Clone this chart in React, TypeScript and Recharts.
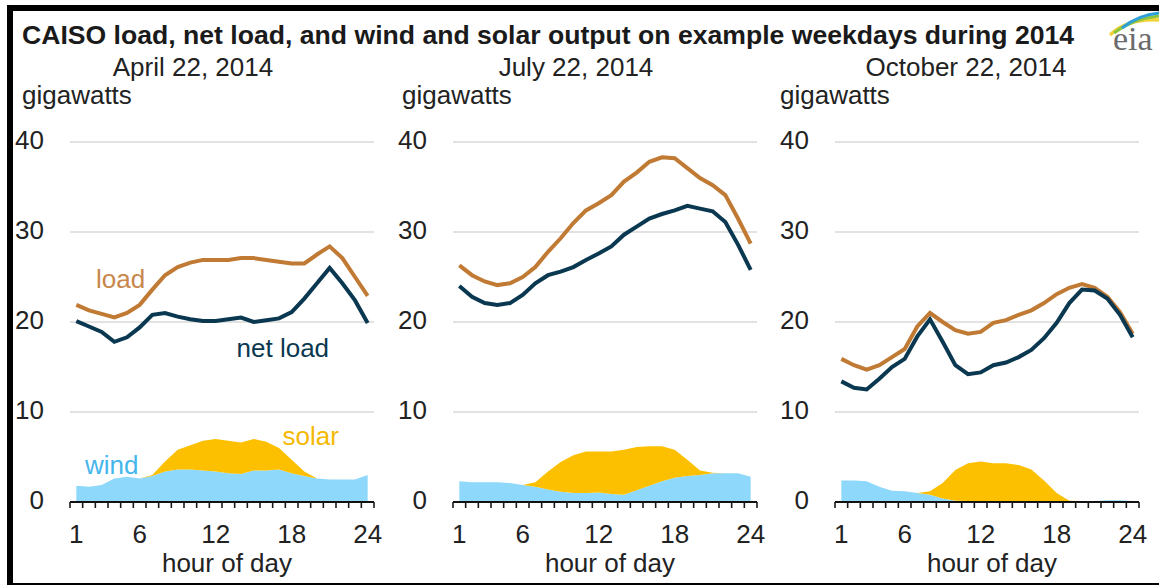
import {
  Area,
  CartesianGrid,
  ComposedChart,
  Line,
  ReferenceDot,
  XAxis,
  YAxis,
} from "recharts";

const hours = [1, 2, 3, 4, 5, 6, 7, 8, 9, 10, 11, 12, 13, 14, 15, 16, 17, 18, 19, 20, 21, 22, 23, 24];
const hourLabels = [1, 6, 12, 18, 24];
const tickMarks = [
  0.5, 1.5, 2.5, 3.5, 4.5, 5.5, 6.5, 7.5, 8.5, 9.5, 10.5, 11.5, 12.5,
  13.5, 14.5, 15.5, 16.5, 17.5, 18.5, 19.5, 20.5, 21.5, 22.5, 23.5, 24.5,
];
const yTicks = [0, 10, 20, 30, 40];

// April 22, 2014 (GW)
const aprilLoad = [21.9, 21.3, 20.9, 20.5, 21.0, 21.9, 23.6, 25.2, 26.1, 26.6, 26.9, 26.9, 26.9, 27.1, 27.1, 26.9, 26.7, 26.5, 26.5, 27.5, 28.4, 27.1, 25.0, 22.9];
const aprilNetLoad = [20.1, 19.5, 18.9, 17.8, 18.3, 19.4, 20.8, 21.0, 20.6, 20.3, 20.1, 20.1, 20.3, 20.5, 20.0, 20.2, 20.4, 21.1, 22.6, 24.3, 26.0, 24.3, 22.4, 19.9];
const aprilWind = [1.8, 1.7, 1.9, 2.6, 2.8, 2.6, 2.9, 3.4, 3.6, 3.6, 3.5, 3.4, 3.2, 3.1, 3.5, 3.5, 3.6, 3.2, 2.9, 2.6, 2.5, 2.5, 2.5, 3.0];
const aprilSolar = [0, 0, 0, 0, 0, 0, 0.1, 1.1, 2.2, 2.7, 3.3, 3.6, 3.6, 3.5, 3.5, 3.2, 2.4, 1.5, 0.5, 0, 0, 0, 0, 0];

// July 22, 2014
const julyLoad = [26.3, 25.2, 24.5, 24.1, 24.3, 25.0, 26.1, 27.8, 29.3, 31.0, 32.4, 33.2, 34.1, 35.6, 36.6, 37.8, 38.3, 38.2, 37.1, 36.0, 35.2, 34.1, 31.5, 28.7];
const julyNetLoad = [24.0, 22.8, 22.1, 21.9, 22.1, 23.0, 24.3, 25.2, 25.6, 26.1, 26.9, 27.6, 28.4, 29.7, 30.6, 31.5, 32.0, 32.4, 32.9, 32.6, 32.3, 31.1, 28.6, 25.8];
const julyWind = [2.3, 2.2, 2.2, 2.2, 2.1, 1.9, 1.7, 1.4, 1.15, 1.0, 1.0, 1.05, 0.9, 0.8, 1.3, 1.8, 2.3, 2.7, 2.9, 3.0, 3.2, 3.2, 3.2, 2.8];
const julySolar = [0, 0, 0, 0, 0, 0, 0.5, 2.0, 3.3, 4.2, 4.6, 4.55, 4.7, 5.0, 4.8, 4.4, 3.9, 3.1, 1.8, 0.5, 0.05, 0, 0, 0];

// October 22, 2014
const octoberLoad = [15.9, 15.2, 14.7, 15.2, 16.1, 17.0, 19.5, 21.0, 20.0, 19.1, 18.7, 18.9, 19.9, 20.2, 20.8, 21.3, 22.1, 23.1, 23.8, 24.2, 23.8, 22.8, 21.1, 18.7];
const octoberNetLoad = [13.4, 12.7, 12.5, 13.7, 15.0, 15.9, 18.4, 20.3, 17.8, 15.2, 14.2, 14.4, 15.2, 15.5, 16.1, 16.9, 18.2, 19.9, 22.1, 23.6, 23.5, 22.6, 20.8, 18.3];
const octoberWind = [2.4, 2.4, 2.3, 1.7, 1.25, 1.2, 1.0, 0.8, 0.4, 0.15, 0.1, 0.1, 0.1, 0.1, 0.1, 0.1, 0.1, 0.1, 0.1, 0.1, 0.1, 0.2, 0.2, 0.1];
const octoberSolar = [0, 0, 0, 0, 0, 0, 0, 0.4, 1.7, 3.4, 4.2, 4.4, 4.2, 4.2, 4.0, 3.5, 2.3, 0.9, 0.05, 0, 0, 0, 0, 0];

const LOAD = "#c07a34";
const NET = "#0a3850";
const SOLAR = "#fcc000";
const WIND = "#8dd8fb";
const TEXT = "#222";
const FONT = "'Liberation Sans', Arial, sans-serif";

function rows(load: number[], net: number[], wind: number[], solar: number[]) {
  return hours.map((hour, i) => ({
    hour,
    load: load[i],
    netLoad: net[i],
    wind: wind[i],
    solar: solar[i],
  }));
}

const axisTicks = [...tickMarks, ...hourLabels].sort((a, b) => a - b);

function HourTick(props: any) {
  const { x, y, payload } = props;
  const v = payload.value as number;
  if (hourLabels.includes(v)) {
    return (
      <text x={x} y={y + 41} textAnchor="middle" fontSize={26} fill={TEXT} fontFamily={FONT}>
        {v}
      </text>
    );
  }
  return <line x1={x} y1={y} x2={x} y2={y + 6} stroke="#1a1a1a" strokeWidth={1.6} />;
}

function textLabel(value: string, fill: string) {
  return { value, position: "center" as const, fill, fontSize: 26, fontFamily: FONT };
}

function Panel({ left, data, annotate }: { left: number; data: any[]; annotate?: boolean }) {
  return (
    <div style={{ position: "absolute", left, top: 120 }}>
      <ComposedChart
        width={392}
        height={458}
        data={data}
        margin={{ top: 22, right: 18, bottom: 0, left: 0 }}
        style={{ overflow: "visible" }}
      >
        <CartesianGrid vertical={false} stroke="#d9d9d9" strokeWidth={1.5} />
        <Area
          type="linear"
          dataKey="wind"
          stackId="re"
          stroke="none"
          fill={WIND}
          fillOpacity={1}
          isAnimationActive={false}
          activeDot={false}
        />
        <Area
          type="linear"
          dataKey="solar"
          stackId="re"
          stroke="none"
          fill={SOLAR}
          fillOpacity={1}
          isAnimationActive={false}
          activeDot={false}
        />
        <Line
          type="linear"
          dataKey="load"
          stroke={LOAD}
          strokeWidth={4}
          dot={false}
          activeDot={false}
          isAnimationActive={false}
        />
        <Line
          type="linear"
          dataKey="netLoad"
          stroke={NET}
          strokeWidth={4}
          dot={false}
          activeDot={false}
          isAnimationActive={false}
        />
        <XAxis
          dataKey="hour"
          type="number"
          domain={[0.5, 24.5]}
          ticks={axisTicks}
          interval={0}
          tick={HourTick}
          tickLine={false}
          tickSize={0}
          tickMargin={0}
          axisLine={{ stroke: "#111", strokeWidth: 2 }}
          height={76}
          label={{
            value: "hour of day",
            position: "insideBottom",
            offset: 6,
            dx: 5,
            fill: TEXT,
            fontSize: 26,
            fontFamily: FONT,
          }}
        />
        <YAxis
          type="number"
          domain={[0, 40]}
          ticks={yTicks}
          width={70}
          axisLine={false}
          tickLine={false}
          tickSize={0}
          tickMargin={26}
          tick={{ fontSize: 26, fill: TEXT, fontFamily: FONT, dy: -2 }}
        />
        {annotate && (
          <>
            <ReferenceDot x={4.5} y={24.8} r={0} stroke="none" fill="none" ifOverflow="visible" label={textLabel("load", "#c8874b")} />
            <ReferenceDot x={17.3} y={17.1} r={0} stroke="none" fill="none" ifOverflow="visible" label={textLabel("net load", NET)} />
            <ReferenceDot x={19.5} y={7.35} r={0} stroke="none" fill="none" ifOverflow="visible" label={textLabel("solar", "#f5b800")} />
            <ReferenceDot x={3.8} y={4.1} r={0} stroke="none" fill="none" ifOverflow="visible" label={textLabel("wind", "#45b6ec")} />
          </>
        )}
      </ComposedChart>
    </div>
  );
}

const heading: React.CSSProperties = {
  position: "absolute",
  whiteSpace: "nowrap",
  lineHeight: "30px",
  fontSize: 26,
  color: TEXT,
};

export default function App() {
  const panels = [
    { left: 0, date: "April 22, 2014", dateCenter: 193, unitLeft: 22, data: rows(aprilLoad, aprilNetLoad, aprilWind, aprilSolar), annotate: true },
    { left: 383, date: "July 22, 2014", dateCenter: 576, unitLeft: 402, data: rows(julyLoad, julyNetLoad, julyWind, julySolar) },
    { left: 765, date: "October 22, 2014", dateCenter: 966, unitLeft: 780, data: rows(octoberLoad, octoberNetLoad, octoberWind, octoberSolar) },
  ];

  return (
    <div
      style={{
        position: "absolute",
        left: 0,
        top: 0,
        width: 1159,
        height: 586,
        overflow: "hidden",
        background: "#fff",
        fontFamily: FONT,
      }}
    >
      <div
        style={{
          position: "absolute",
          left: 7,
          top: 5,
          width: 1152,
          height: 580,
          boxSizing: "border-box",
          borderTop: "6px solid #000",
          borderLeft: "6px solid #000",
          borderBottom: "2px solid #000",
        }}
      />
      <div style={{ ...heading, left: 22, top: 20, fontSize: 26.6, fontWeight: "bold", color: "#1a1a1a" }}>
        CAISO load, net load, and wind and solar output on example weekdays during 2014
      </div>
      <svg style={{ position: "absolute", left: 1098, top: 11 }} width={61} height={45}>
        <path d="M12 24 Q 30 7 61 9" stroke="#f3d23a" strokeWidth={3.5} fill="none" />
        <path d="M16 22 Q 34 8 61 5" stroke="#8cc63f" strokeWidth={3} fill="none" />
        <path d="M24 17 Q 40 4 61 2" stroke="#2e9fd9" strokeWidth={3} fill="none" />
        <text x={15} y={39} fontFamily="'Liberation Serif', 'DejaVu Serif', serif" fontSize={34} fill="#6b6b6b">
          eia
        </text>
      </svg>
      {panels.map((p) => (
        <div key={p.date}>
          <div style={{ ...heading, left: p.dateCenter - 150, width: 300, top: 52, textAlign: "center" }}>{p.date}</div>
          <div style={{ ...heading, left: p.unitLeft, top: 80 }}>gigawatts</div>
          <Panel left={p.left} data={p.data} annotate={p.annotate} />
        </div>
      ))}
    </div>
  );
}
